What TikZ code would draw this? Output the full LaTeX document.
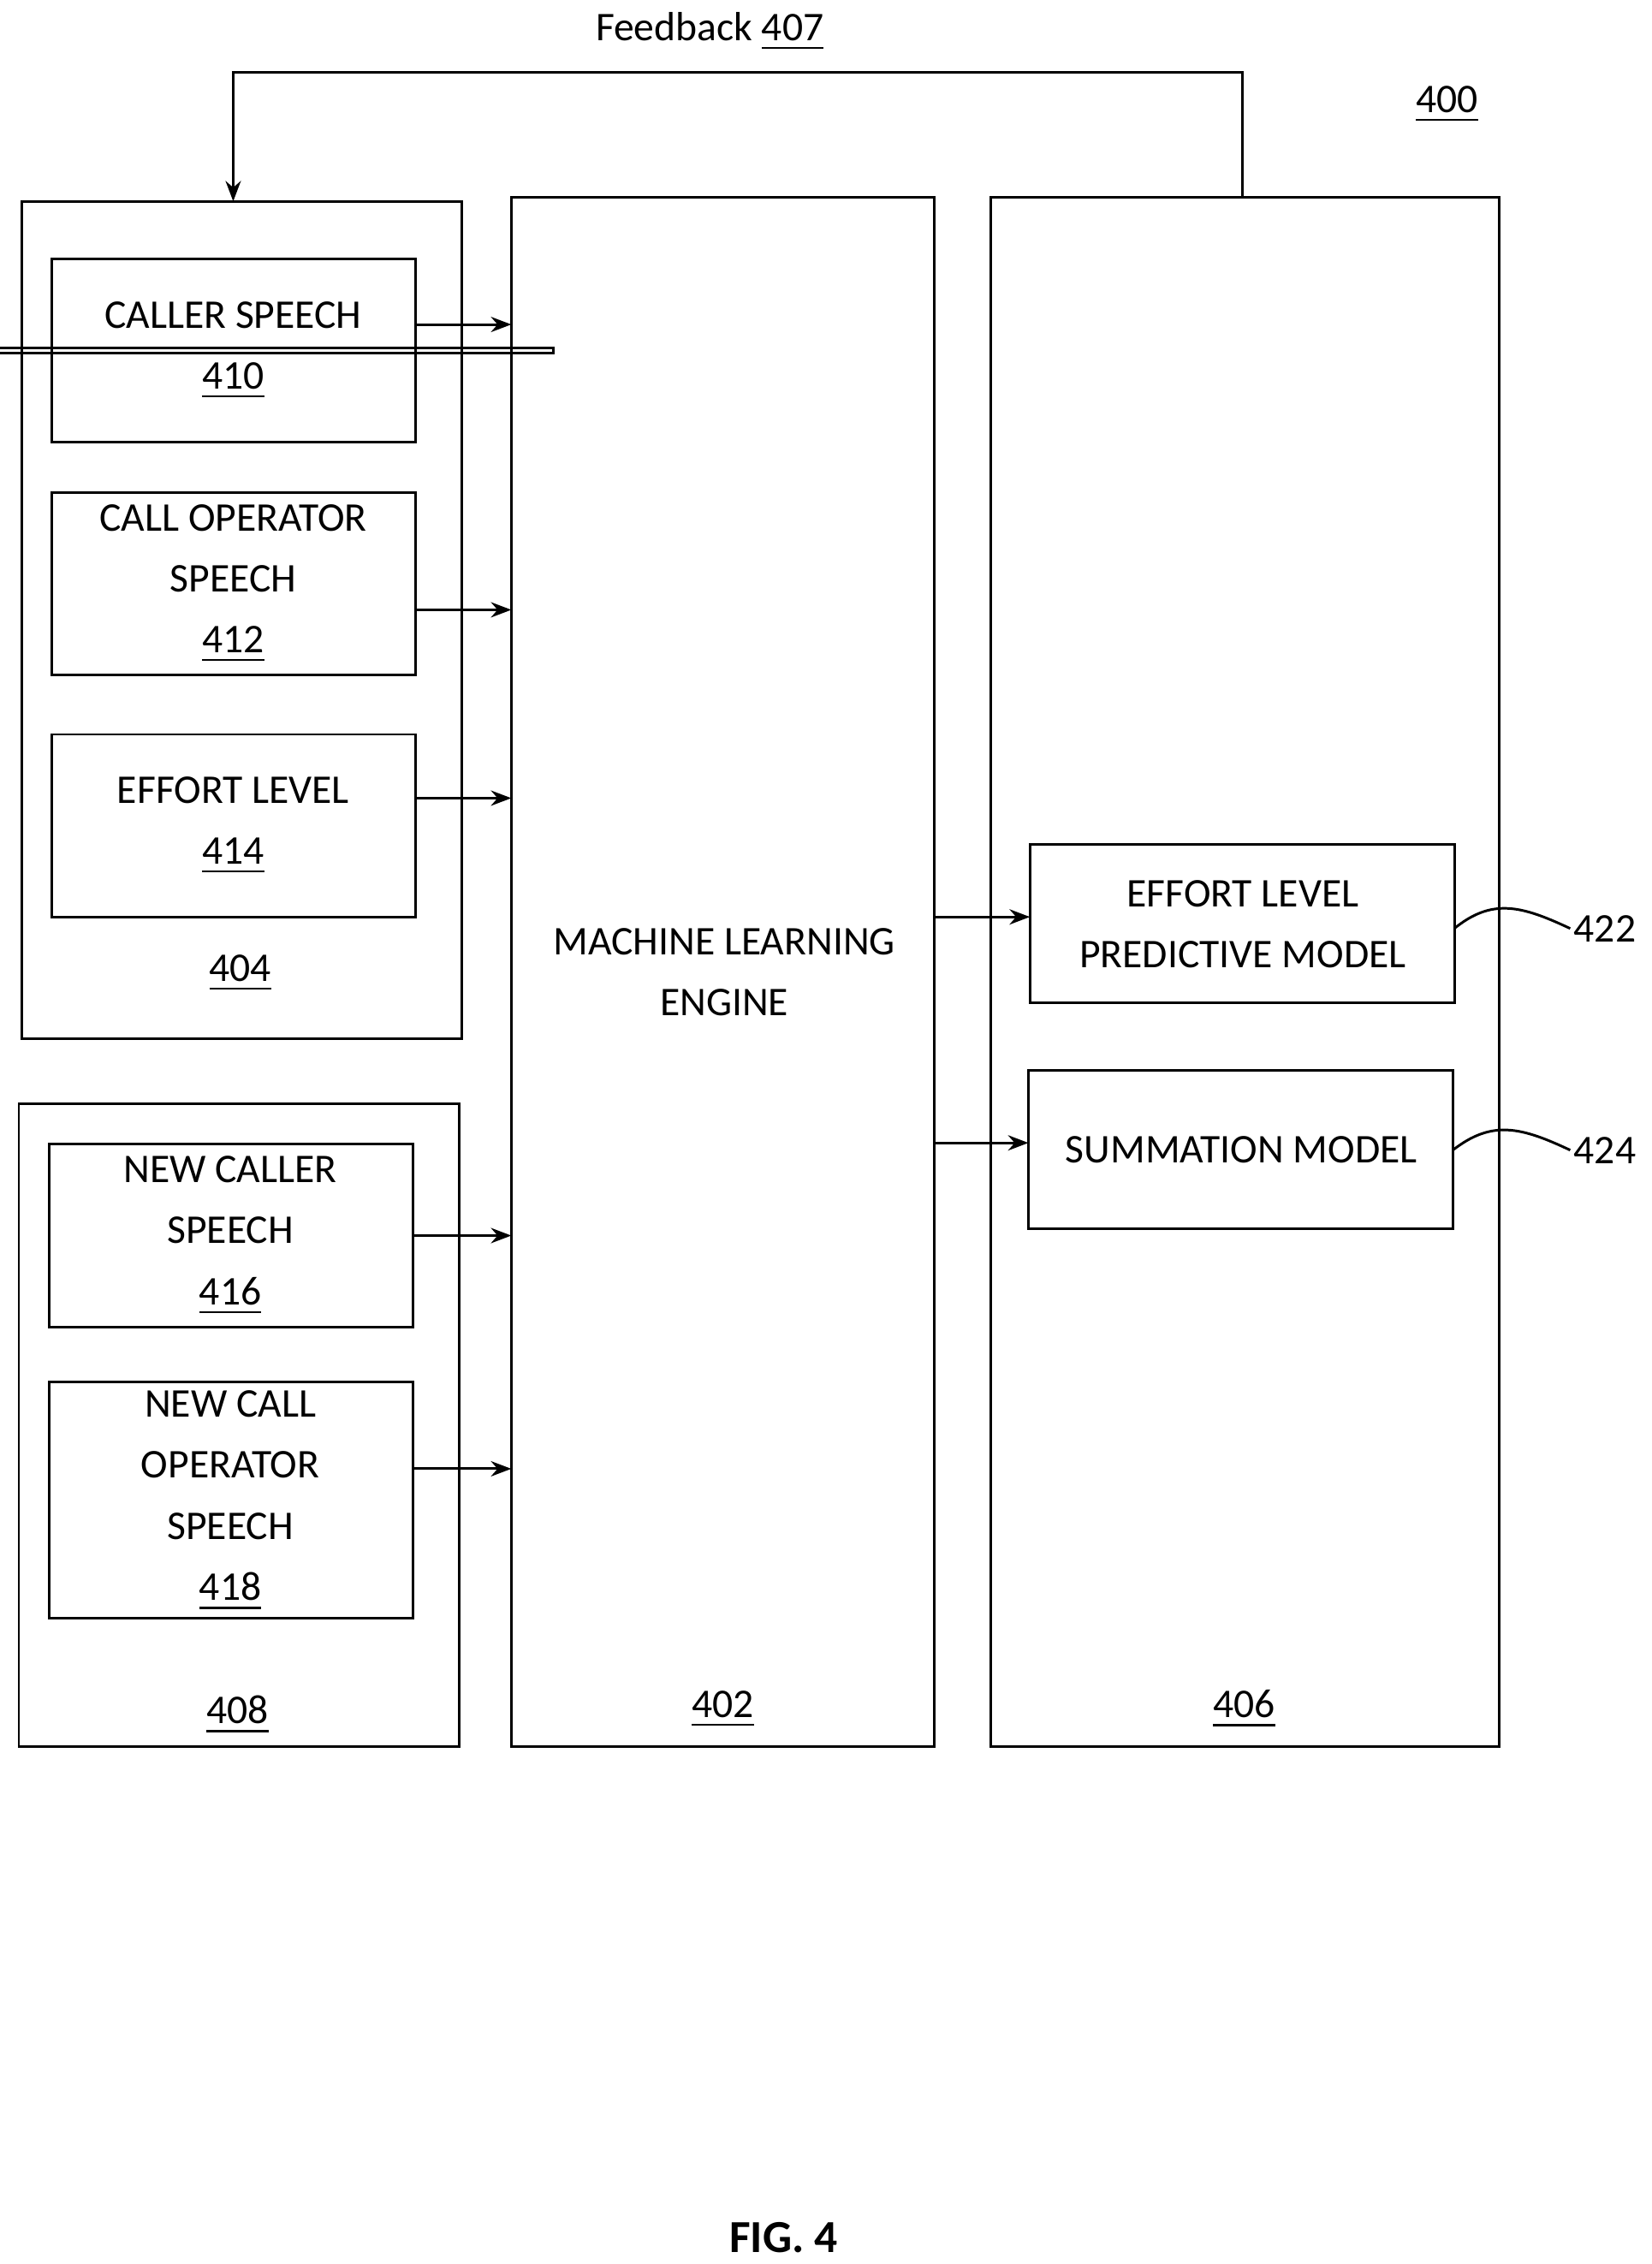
\documentclass[tikz,border=0pt]{standalone}
\usepackage{fontspec}
\setmainfont{Carlito}
\usetikzlibrary{arrows.meta}
\begin{document}
\begin{tikzpicture}[x=0.01cm,y=-0.01cm,
  box/.style={draw,line width=0.5pt},
  t/.style={font=\fontsize{8}{10}\selectfont,align=center},
  arr/.style={-{Stealth[length=4pt,width=3pt]},line width=0.5pt}]
\useasboundingbox (0,0) rectangle (1140,1563);
\draw[box] (15,139) rectangle (319,717);
\draw[box] (13,762) rectangle (317,1206);
\draw[box] (353,136) rectangle (645,1206);
\draw[box] (684,136) rectangle (1035,1206);
\node[box,minimum width=251\pgflinewidth,inner sep=0] (n410) at (161.5,242) {};
\draw[box] (36,179) rectangle (287,305);
\draw[box] (36,340) rectangle (287,466);
\draw[box] (36,507) rectangle (287,633);
\draw[box] (34,790) rectangle (285,916);
\draw[box] (34,954) rectangle (285,1117);
\draw[box] (711,583) rectangle (1004,692);
\draw[box] (710,739) rectangle (1003,848);
\node[t] at (161,242) {CALLER SPEECH\\[2pt]\underline{410}};
\node[t] at (161,403) {CALL OPERATOR\\[2pt]SPEECH\\[2pt]\underline{412}};
\node[t] at (161,570) {EFFORT LEVEL\\[2pt]\underline{414}};
\node[t] at (166,672) {\underline{404}};
\node[t] at (159,853) {NEW CALLER\\[2pt]SPEECH\\[2pt]\underline{416}};
\node[t] at (159,1036) {NEW CALL\\[2pt]OPERATOR\\[2pt]SPEECH\\[2pt]\underline{418}};
\node[t] at (164,1184) {\underline{408}};
\node[t] at (500,671) {MACHINE LEARNING\\[2pt]ENGINE};
\node[t] at (499,1180) {\underline{402}};
\node[t] at (859,1180) {\underline{406}};
\node[t] at (858,638) {EFFORT LEVEL\\[2pt]PREDICTIVE MODEL};
\node[t] at (857,794) {SUMMATION MODEL};
\node[t] at (490,22) {Feedback \underline{407}};
\node[t] at (999,72) {\underline{400}};
\node[t] (l422) at (1108,641) {422};
\node[t] (l424) at (1108,794) {424};
\node[t,font=\fontsize{9}{11}\bfseries\selectfont] at (541,1545) {FIG. 4};
\foreach \y in {224,421,551} \draw[arr] (287,\y) -- (353,\y);
\foreach \y in {853,1014} \draw[arr] (285,\y) -- (353,\y);
\draw[arr] (645,633) -- (711,633);
\draw[arr] (645,789) -- (710,789);
\draw[arr] (858,136) -- (858,50) -- (161,50) -- (161,139);
\draw[line width=0.5pt] (1004,641) .. controls (1030,620) and (1050,625) .. (1084,641);
\draw[line width=0.5pt] (1003,794) .. controls (1030,773) and (1050,778) .. (1084,794);
\end{tikzpicture}
\end{document}
